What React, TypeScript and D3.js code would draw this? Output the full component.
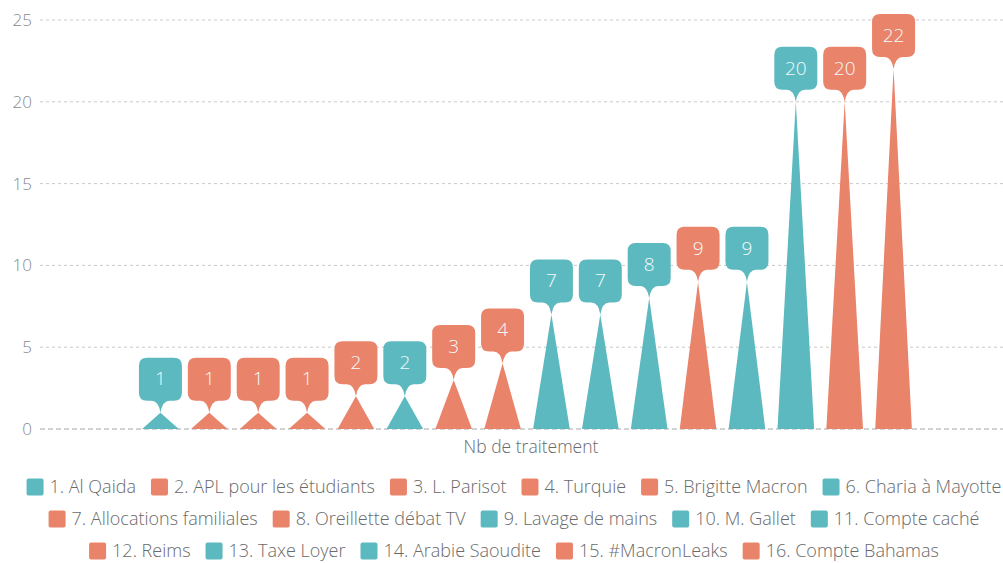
import React, { useEffect, useRef } from "react";
import * as d3 from "d3";

const categories = [
  "1. Al Qaida",
  "2. APL pour les étudiants",
  "3. L. Parisot",
  "4. Turquie",
  "5. Brigitte Macron",
  "6. Charia à Mayotte",
  "7. Allocations familiales",
  "8. Oreillette débat TV",
  "9. Lavage de mains",
  "10. M. Gallet",
  "11. Compte caché",
  "12. Reims",
  "13. Taxe Loyer",
  "14. Arabie Saoudite",
  "15. #MacronLeaks",
  "16. Compte Bahamas",
];
const values = [1, 1, 1, 1, 2, 2, 3, 4, 7, 7, 8, 9, 9, 20, 20, 22];
const groups = ["t", "o", "o", "o", "o", "t", "o", "o", "t", "t", "t", "o", "t", "t", "o", "o"];
const yTicks = [0, 5, 10, 15, 20, 25];
const axisTitle = "Nb de traitement";
const legendRowBreaks = [6, 11];

const W = 1003;
const H = 563;
const TEAL = "#5cb9bf";
const ORANGE = "#e9836a";
const FONT = "'Open Sans', 'Noto Sans', sans-serif";

export default function App() {
  const ref = useRef<SVGSVGElement | null>(null);

  useEffect(() => {
    document.body.style.margin = "0";
    const svg = d3.select(ref.current);
    svg.selectAll("*").remove();

    const y = d3.scaleLinear().domain([0, 25]).range([429, 20]);
    const x = d3.scaleBand<string>().domain(categories).range([136, 918]).padding(0);
    const color = d3.scaleOrdinal<string, string>().domain(["t", "o"]).range([TEAL, ORANGE]);
    const half = x.step() * 0.375;

    // grid
    const grid = svg.append("g");
    yTicks.forEach((t) => {
      grid
        .append("line")
        .attr("x1", 40)
        .attr("x2", W)
        .attr("y1", y(t))
        .attr("y2", y(t))
        .attr("stroke", t === 0 ? "#a8a8a8" : "#c9c9c9")
        .attr("stroke-width", 1)
        .attr("stroke-dasharray", t === 0 ? "5,3" : "3,3");
      grid
        .append("text")
        .attr("x", 32)
        .attr("y", y(t))
        .attr("dy", "0.35em")
        .attr("text-anchor", "end")
        .attr("font-family", FONT)
        .attr("font-size", 17)
        .attr("font-weight", 300)
        .attr("fill", "#8a8a8a")
        .text(t);
    });

    const data = categories.map((c, i) => ({ c, v: values[i], g: groups[i] }));

    // triangles
    svg
      .append("g")
      .selectAll("path")
      .data(data)
      .join("path")
      .attr("d", (d) => {
        const cx = x(d.c)! + x.bandwidth() / 2;
        return `M${cx - half},${y(0)} L${cx},${y(d.v)} L${cx + half},${y(0)} Z`;
      })
      .attr("fill", (d) => color(d.g));

    // callouts
    const bw = 21.5;
    const r = 8;
    const callout = (cx: number, ty: number) => {
      const top = ty - 55;
      const bot = ty - 12;
      return [
        `M${cx - bw + r},${top}`,
        `H${cx + bw - r}`,
        `Q${cx + bw},${top} ${cx + bw},${top + r}`,
        `V${bot - r}`,
        `Q${cx + bw},${bot} ${cx + bw - r},${bot}`,
        `H${cx + 9}`,
        `Q${cx + 2},${bot} ${cx},${ty}`,
        `Q${cx - 2},${bot} ${cx - 9},${bot}`,
        `H${cx - bw + r}`,
        `Q${cx - bw},${bot} ${cx - bw},${bot - r}`,
        `V${top + r}`,
        `Q${cx - bw},${top} ${cx - bw + r},${top}`,
        "Z",
      ].join(" ");
    };
    const lab = svg.append("g");
    data.forEach((d) => {
      const cx = x(d.c)! + x.bandwidth() / 2;
      const ty = y(d.v);
      lab.append("path").attr("d", callout(cx, ty)).attr("fill", color(d.g));
      lab
        .append("text")
        .attr("x", cx)
        .attr("y", ty - 34)
        .attr("dy", "0.36em")
        .attr("text-anchor", "middle")
        .attr("font-family", FONT)
        .attr("font-size", 19)
        .attr("font-weight", 300)
        .attr("fill", "#f4fbfb")
        .text(d.v);
    });

    // axis title
    svg
      .append("text")
      .attr("x", 531)
      .attr("y", 447)
      .attr("dy", "0.35em")
      .attr("text-anchor", "middle")
      .attr("font-family", FONT)
      .attr("font-size", 17.5)
      .attr("font-weight", 300)
      .attr("fill", "#6a6a6a")
      .text(axisTitle);

    // legend
    const rows: number[][] = [];
    const bounds = [0, ...legendRowBreaks, categories.length];
    for (let i = 0; i < bounds.length - 1; i++) {
      rows.push(d3.range(bounds[i], bounds[i + 1]));
    }
    const rowY = [487, 519, 551];
    const sw = 17;
    const gapSwText = 6;
    const gapItem = 15;
    rows.forEach((row, ri) => {
      const g = svg.append("g");
      let cursor = 0;
      row.forEach((i) => {
        g.append("rect")
          .attr("x", cursor)
          .attr("y", rowY[ri] - sw / 2)
          .attr("width", sw)
          .attr("height", sw)
          .attr("rx", 2)
          .attr("fill", color(groups[i]));
        const t = g
          .append("text")
          .attr("x", cursor + sw + gapSwText)
          .attr("y", rowY[ri])
          .attr("dy", "0.35em")
          .attr("font-family", FONT)
          .attr("font-size", 18)
          .attr("font-weight", 300)
          .attr("fill", "#6a6a6a")
          .text(categories[i]);
        const len = (t.node() as SVGTextElement).getComputedTextLength();
        cursor += sw + gapSwText + len + gapItem;
      });
      const total = cursor - gapItem;
      g.attr("transform", `translate(${514 - total / 2},0)`);
    });
  }, []);

  return <svg ref={ref} width={W} height={H} style={{ display: "block", background: "#fff" }} />;
}
